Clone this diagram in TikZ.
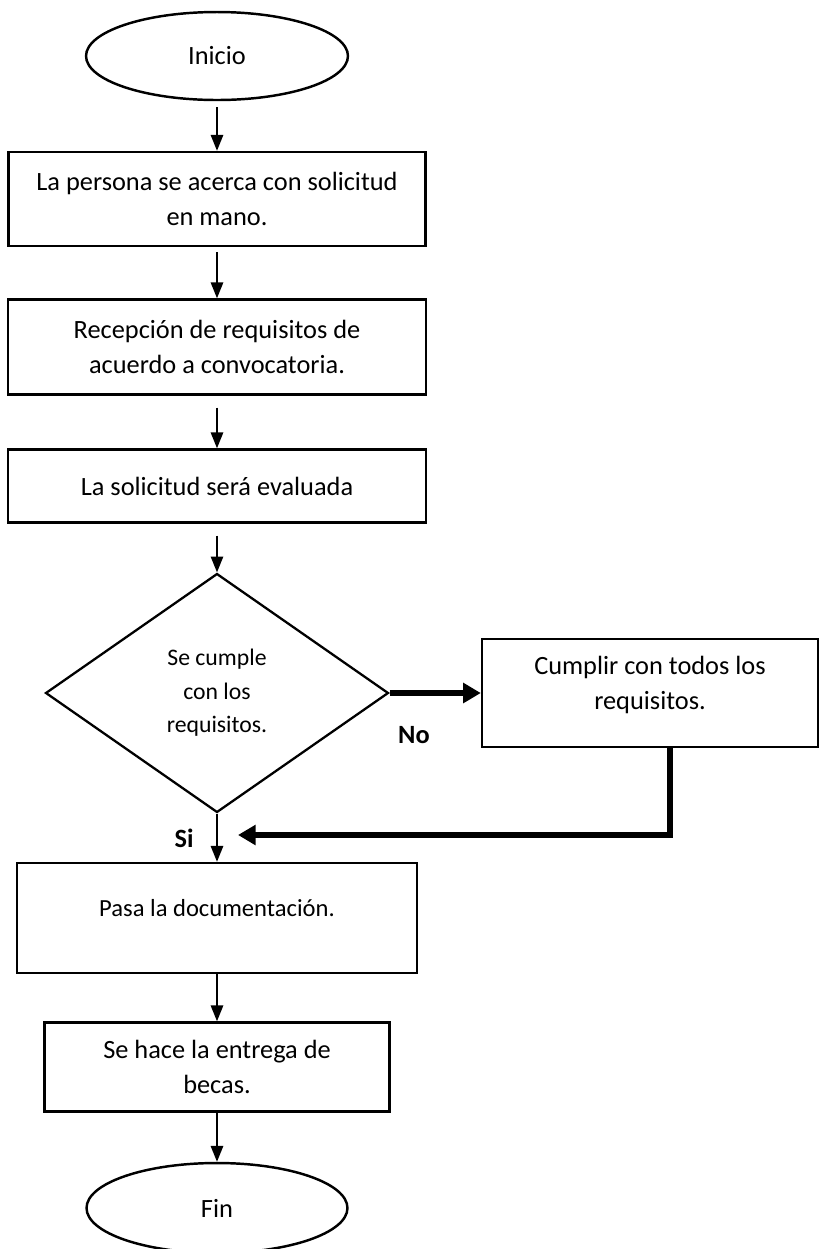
\documentclass[tikz,border=0pt]{standalone}
\usepackage{fontspec}
\setmainfont{Carlito}
\usetikzlibrary{arrows.meta,positioning,shapes.geometric}

\begin{document}
\begin{tikzpicture}[x=0.02cm,y=-0.02cm,
    every node/.style={font=\fontsize{15}{20}\selectfont},
    caja/.style={draw,line width=1.4pt,align=center,inner sep=0pt},
    terminal/.style={draw,ellipse,line width=1.4pt,inner sep=0pt},
    flecha/.style={-{Triangle[width=7pt,length=9pt]},line width=1pt},
    flechagruesa/.style={-{Triangle[width=11pt,length=10pt]},line width=3.2pt},
    etiqueta/.style={font=\fontsize{15}{18}\selectfont\bfseries}]
  \useasboundingbox (0,0) rectangle (820,1249);
  % main column
  \node[terminal,minimum width=5.24cm,minimum height=1.76cm] (inicio) at (217,56) {Inicio};
  \node[caja,minimum width=8.34cm,minimum height=1.88cm] (persona) at (217,199)
    {La persona se acerca con solicitud\\en mano.};
  \node[caja,minimum width=8.36cm,minimum height=1.9cm] (recepcion) at (217,347)
    {Recepción de requisitos de\\acuerdo a convocatoria.};
  \node[caja,minimum width=8.36cm,minimum height=1.46cm] (evalua) at (217,486)
    {La solicitud será evaluada};
  \node[draw,diamond,line width=1.3pt,minimum width=6.86cm,minimum height=4.78cm,
    inner sep=0pt,align=center,font=\fontsize{13.5}{19}\selectfont] (cumple) at (217,693)
    {Se cumple\\con los\\requisitos.};
  \node[caja,minimum width=8cm,minimum height=2.2cm] (pasa) at (217,918) {};
  \node[font=\fontsize{14}{18}\selectfont] (pasatxt) at (217,908) {Pasa la documentación.};
  \node[caja,minimum width=6.9cm,minimum height=1.78cm] (entrega) at (217,1067)
    {Se hace la entrega de\\becas.};
  \node[terminal,minimum width=5.22cm,minimum height=1.8cm] (fin) at (217,1208) {Fin};
  % side branch
  \node[caja,minimum width=6.72cm,minimum height=2.16cm] (cumplir) at (650,693) {};
  \node[align=center] (cumplirtxt) at (650,685) {Cumplir con todos los\\requisitos.};
  \coordinate (retorno) at (238,835);
  \node[etiqueta] (no) at (414,735) {No};
  \node[etiqueta] (si) at (184,838) {Si};
  % connectors
  \draw[flecha,shorten <=0.12cm] (inicio.south) -- (persona.north);
  \draw[flecha,shorten <=0.1cm] (persona.south) -- (recepcion.north);
  \draw[flecha,shorten <=0.24cm] (recepcion.south) -- (evalua.north);
  \draw[flecha,shorten <=0.24cm] (evalua.south) -- (cumple.north);
  \draw[flecha] (cumple.south) -- (pasa.north);
  \draw[flecha] (pasa.south) -- (entrega.north);
  \draw[flecha] (entrega.south) -- (fin.north);
  \draw[flechagruesa] (cumple.east) -- (cumplir.west);
  \draw[flechagruesa] ([xshift=0.4cm]cumplir.south) |- (retorno);
\end{tikzpicture}
\end{document}
